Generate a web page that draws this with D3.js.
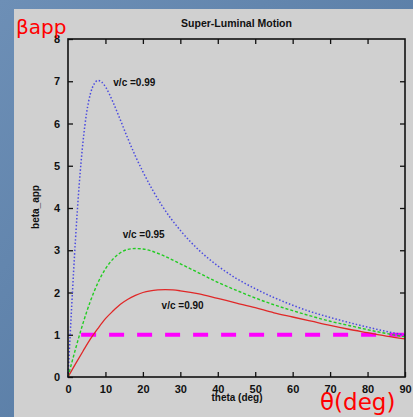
<!DOCTYPE html>
<html>
<head>
<meta charset="utf-8">
<script src="https://cdn.jsdelivr.net/npm/d3@7"></script>
<style>
  body { margin: 0; padding: 0; background: #5d80a8; }
  svg { display: block; }
</style>
</head>
<body>
<div id="chart"></div>
<script>
// theta samples (deg) and beta_app values
var theta99 = [0, 1, 2, 3, 4, 5, 6, 7, 8, 9, 10, 12, 14, 16, 18, 20, 25, 30, 35, 40, 45, 50, 55, 60, 65, 70, 75, 80, 85, 90];
var beta99 = [0, 1.70, 3.26, 4.56, 5.56, 6.27, 6.71, 6.94, 7.02, 6.98, 6.87, 6.51, 6.08, 5.64, 5.23, 4.86, 4.07, 3.47, 3.00, 2.63, 2.33, 2.09, 1.88, 1.70, 1.54, 1.41, 1.29, 1.18, 1.08, 0.99];

var theta95 = [0, 2, 4, 6, 8, 10, 12, 14, 16, 18, 20, 22, 25, 30, 35, 40, 45, 50, 55, 60, 65, 70, 75, 80, 85, 90];
var beta95 = [0, 0.66, 1.27, 1.80, 2.23, 2.56, 2.79, 2.94, 3.02, 3.04, 3.03, 2.99, 2.89, 2.68, 2.46, 2.24, 2.05, 1.87, 1.71, 1.57, 1.44, 1.32, 1.22, 1.12, 1.03, 0.95];

var theta90 = [0, 2, 4, 6, 8, 10, 12, 14, 16, 18, 20, 22, 24, 26, 28, 30, 35, 40, 45, 50, 55, 60, 65, 70, 75, 80, 85, 90];
var beta90 = [0, 0.31, 0.61, 0.90, 1.15, 1.38, 1.56, 1.72, 1.84, 1.93, 2.00, 2.04, 2.06, 2.07, 2.06, 2.04, 1.97, 1.86, 1.75, 1.64, 1.52, 1.42, 1.32, 1.22, 1.13, 1.05, 0.97, 0.90];

// reference line beta_app = 1
var refTheta = [3.5, 90];
var refBeta = [1, 1];

var xTicks = [0, 10, 20, 30, 40, 50, 60, 70, 80, 90];
var yTicks = [0, 1, 2, 3, 4, 5, 6, 7, 8];

var W = 413, H = 417;
var margin = {top: 39, right: 8, bottom: 40, left: 68};

var svg = d3.select("#chart").append("svg").attr("width", W).attr("height", H);

// blue backdrop
var defs = svg.append("defs");
var grad = defs.append("linearGradient").attr("id", "bg").attr("x1", 0).attr("y1", 0).attr("x2", 1).attr("y2", 1);
grad.append("stop").attr("offset", "0%").attr("stop-color", "#6d8fb6");
grad.append("stop").attr("offset", "100%").attr("stop-color", "#4e739d");
svg.append("rect").attr("width", W).attr("height", H).attr("fill", "url(#bg)");

// gray slide panel
svg.append("rect").attr("x", 14).attr("y", 9).attr("width", W - 14).attr("height", H - 9).attr("fill", "#d0d0d0");

var width = W - margin.left - margin.right;
var height = H - margin.top - margin.bottom;
var g = svg.append("g").attr("transform", "translate(" + margin.left + "," + margin.top + ")");

var x = d3.scaleLinear().domain([0, 90]).range([0, width]);
var y = d3.scaleLinear().domain([0, 8]).range([height, 0]);

var tickFont = "Liberation Sans, Arial, sans-serif";

// axes with inward ticks on all four sides
g.append("g")
    .attr("transform", "translate(0," + height + ")")
    .call(d3.axisBottom(x).tickValues(xTicks).tickSizeInner(-5).tickSizeOuter(0).tickPadding(8))
    .call(function (a) {
        a.select(".domain").remove();
        a.selectAll("text").attr("font-family", tickFont).attr("font-size", 11).attr("font-weight", "bold").attr("fill", "#111");
    });
g.append("g")
    .call(d3.axisTop(x).tickValues(xTicks.slice(1, -1)).tickSizeInner(-5).tickSizeOuter(0).tickFormat(""))
    .call(function (a) { a.select(".domain").remove(); });
g.append("g")
    .call(d3.axisLeft(y).tickValues(yTicks).tickSizeInner(-5).tickSizeOuter(0).tickPadding(8))
    .call(function (a) {
        a.select(".domain").remove();
        a.selectAll("text").attr("font-family", tickFont).attr("font-size", 11).attr("font-weight", "bold").attr("fill", "#111");
    });
g.append("g")
    .attr("transform", "translate(" + width + ",0)")
    .call(d3.axisRight(y).tickValues(yTicks.slice(1, -1)).tickSizeInner(-5).tickSizeOuter(0).tickFormat(""))
    .call(function (a) { a.select(".domain").remove(); });
g.selectAll(".tick line").attr("stroke", "#111").attr("stroke-width", 1.3);

// curves
var line = d3.line()
    .x(function (d) { return x(d[0]); })
    .y(function (d) { return y(d[1]); })
    .curve(d3.curveMonotoneX);

function pairs(t, b) {
    return t.map(function (v, i) { return [v, b[i]]; });
}

g.append("path").datum(pairs(refTheta, refBeta))
    .attr("d", line).attr("fill", "none")
    .attr("stroke", "#ff00ff").attr("stroke-width", 4).attr("stroke-dasharray", "15,13");

g.append("path").datum(pairs(theta90, beta90))
    .attr("d", line).attr("fill", "none")
    .attr("stroke", "#e02828").attr("stroke-width", 1.3);

g.append("path").datum(pairs(theta95, beta95))
    .attr("d", line).attr("fill", "none")
    .attr("stroke", "#22cc22").attr("stroke-width", 1.4).attr("stroke-dasharray", "3,2");

g.append("path").datum(pairs(theta99, beta99))
    .attr("d", line).attr("fill", "none")
    .attr("stroke", "#4b4be0").attr("stroke-width", 1.5).attr("stroke-dasharray", "1.5,2");

// frame
g.append("rect").attr("width", width).attr("height", height)
    .attr("fill", "none").attr("stroke", "#111").attr("stroke-width", 1.6);

// curve labels
var labels = [
    {text: "v/c =0.99", t: 12.1, b: 6.97},
    {text: "v/c =0.95", t: 14.6, b: 3.38},
    {text: "v/c =0.90", t: 25.0, b: 1.70}
];
g.selectAll(".lab").data(labels).enter().append("text")
    .attr("x", function (d) { return x(d.t); })
    .attr("y", function (d) { return y(d.b); })
    .attr("dy", "0.35em")
    .attr("font-family", tickFont).attr("font-size", 10).attr("font-weight", "bold").attr("fill", "#111")
    .text(function (d) { return d.text; });

// titles
svg.append("text").attr("x", margin.left + width / 2).attr("y", 27)
    .attr("text-anchor", "middle").attr("font-family", tickFont).attr("font-size", 10.5).attr("font-weight", "bold").attr("fill", "#111")
    .text("Super-Luminal Motion");
svg.append("text").attr("x", 237).attr("y", 401)
    .attr("text-anchor", "middle").attr("font-family", tickFont).attr("font-size", 10).attr("font-weight", "bold").attr("fill", "#111")
    .text("theta (deg)");
svg.append("text").attr("transform", "translate(39,207) rotate(-90)")
    .attr("text-anchor", "middle").attr("font-family", tickFont).attr("font-size", 10).attr("font-weight", "bold").attr("fill", "#111")
    .text("beta_app");

// red slide annotations
svg.append("text").attr("x", 16).attr("y", 34)
    .attr("font-family", "DejaVu Sans, sans-serif").attr("font-size", 20).attr("fill", "#ff0000")
    .text("βapp");
svg.append("text").attr("x", 320).attr("y", 410)
    .attr("font-family", "DejaVu Sans, sans-serif").attr("font-size", 23).attr("fill", "#ff0000")
    .text("θ(deg)");
</script>
</body>
</html>
